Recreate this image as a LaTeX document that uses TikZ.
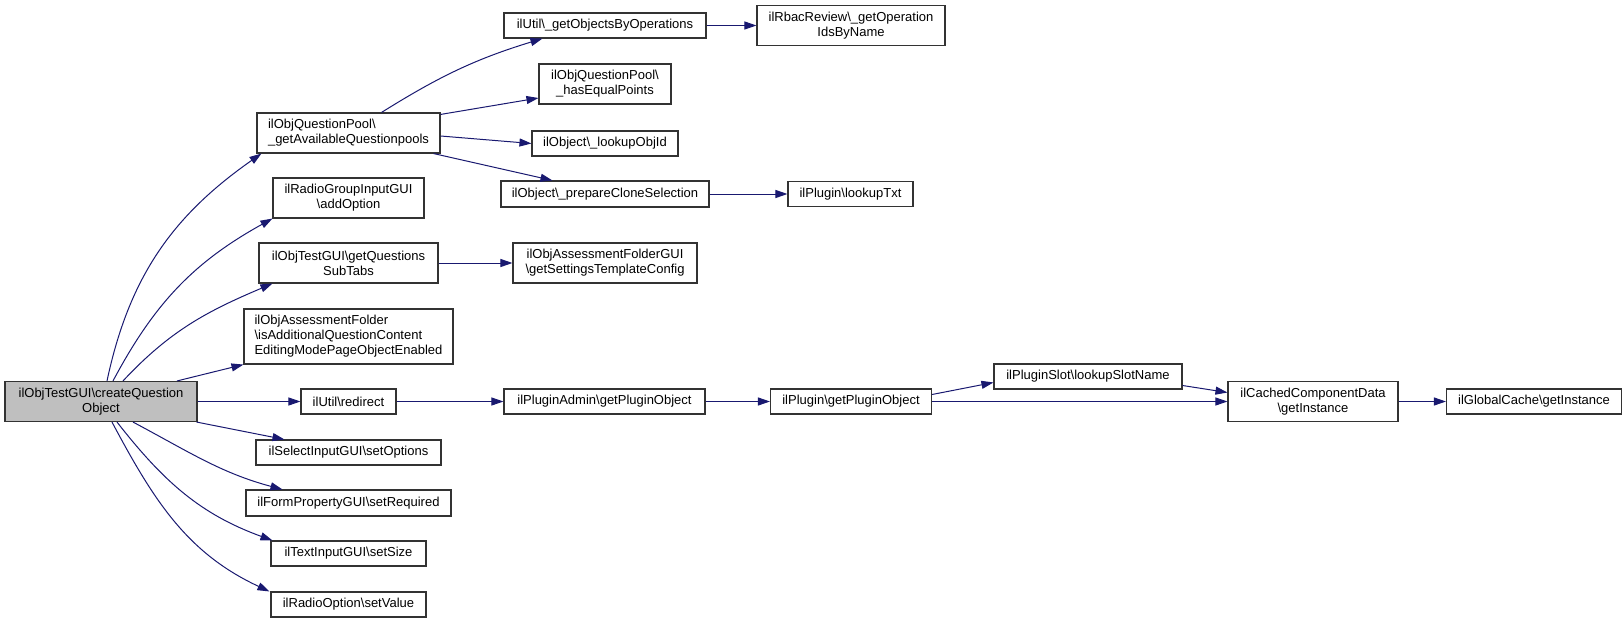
\documentclass[tikz,border=0pt]{standalone}
\usepackage{fontspec}
\setmainfont{Liberation Sans}
\usetikzlibrary{arrows.meta}
\definecolor{edgeblue}{RGB}{25,25,112}
\definecolor{curgray}{RGB}{191,191,191}

\begin{document}
\begin{tikzpicture}[x=1pt,y=-1pt,
  fn/.style={draw=black!80,line width=1.1pt,align=center,inner sep=0pt,
    font=\fontsize{13}{15}\selectfont},
  cur/.style={fn,fill=curgray},
  call/.style={edgeblue,line width=1pt,-{Triangle[length=12pt,width=8pt]}}]

  \useasboundingbox (0,0) rectangle (1624,623);

  % first column
  \node[cur,minimum width=192pt,minimum height=40pt] (main) at (101,401.5)
    {ilObjTestGUI\textbackslash createQuestion\\Object};

  % second column
  \node[fn,align=left,minimum width=183pt,minimum height=40pt] (pool) at (348.5,133)
    {ilObjQuestionPool\textbackslash\\\_getAvailableQuestionpools};
  \node[fn,minimum width=151pt,minimum height=40pt] (radio) at (348.5,198)
    {ilRadioGroupInputGUI\\\textbackslash addOption};
  \node[fn,minimum width=179pt,minimum height=40pt] (subtabs) at (348.5,263)
    {ilObjTestGUI\textbackslash getQuestions\\SubTabs};
  \node[fn,align=left,minimum width=209pt,minimum height=55pt] (assess) at (348.5,336.5)
    {ilObjAssessmentFolder\\\textbackslash isAdditionalQuestionContent\\EditingModePageObjectEnabled};
  \node[fn,minimum width=95pt,minimum height=25pt] (redirect) at (348.5,401.5)
    {ilUtil\textbackslash redirect};
  \node[fn,minimum width=185pt,minimum height=25pt] (setopt) at (348.5,452.5)
    {ilSelectInputGUI\textbackslash setOptions};
  \node[fn,minimum width=205pt,minimum height=26pt] (setreq) at (348.5,503)
    {ilFormPropertyGUI\textbackslash setRequired};
  \node[fn,minimum width=155pt,minimum height=25pt] (setsize) at (348.5,553.5)
    {ilTextInputGUI\textbackslash setSize};
  \node[fn,minimum width=155pt,minimum height=25pt] (setval) at (348.5,604.5)
    {ilRadioOption\textbackslash setValue};

  % third column
  \node[fn,minimum width=202pt,minimum height=25pt] (getobj) at (605,25.5)
    {ilUtil\textbackslash\_getObjectsByOperations};
  \node[fn,minimum width=132pt,minimum height=40pt] (haseq) at (605,84)
    {ilObjQuestionPool\textbackslash\\\_hasEqualPoints};
  \node[fn,minimum width=146pt,minimum height=25pt] (lookupid) at (605,143.5)
    {ilObject\textbackslash\_lookupObjId};
  \node[fn,minimum width=208pt,minimum height=26pt] (clone) at (605,194)
    {ilObject\textbackslash\_prepareCloneSelection};
  \node[fn,minimum width=184pt,minimum height=40pt] (settpl) at (605,263)
    {ilObjAssessmentFolderGUI\\\textbackslash getSettingsTemplateConfig};
  \node[fn,minimum width=201pt,minimum height=25pt] (padmin) at (604.5,401.5)
    {ilPluginAdmin\textbackslash getPluginObject};

  % fourth column and beyond
  \node[fn,minimum width=188pt,minimum height=40pt] (rbac) at (851,25.5)
    {ilRbacReview\textbackslash\_getOperation\\IdsByName};
  \node[fn,minimum width=125pt,minimum height=25pt] (txt) at (850.5,194)
    {ilPlugin\textbackslash lookupTxt};
  \node[fn,minimum width=161pt,minimum height=25pt] (plugin) at (851,401.5)
    {ilPlugin\textbackslash getPluginObject};
  \node[fn,minimum width=188pt,minimum height=25pt] (slot) at (1088,376.5)
    {ilPluginSlot\textbackslash lookupSlotName};
  \node[fn,minimum width=170pt,minimum height=40pt] (cached) at (1313,401.5)
    {ilCachedComponentData\\\textbackslash getInstance};
  \node[fn,minimum width=175pt,minimum height=25pt] (gcache) at (1534,401.5)
    {ilGlobalCache\textbackslash getInstance};

  % calls from the current function
  \draw[call] ([xshift=6pt]main.north) to[out=78,in=215] ([xshift=5pt]pool.south west);
  \draw[call] ([xshift=12pt]main.north) to[out=62,in=209] (radio.south west);
  \draw[call] ([xshift=22pt]main.north) to[out=47,in=203] ([xshift=14pt]subtabs.south west);
  \draw[call] ([xshift=76pt]main.north) -- (assess.south west);
  \draw[call] (main.east) -- (redirect.west);
  \draw[call] ([xshift=-1pt]main.south east) -- ([xshift=29pt]setopt.north west);
  \draw[call] ([xshift=32pt]main.south) to[out=-28,in=165] ([xshift=37pt]setreq.north west);
  \draw[call] ([xshift=16pt]main.south) to[out=-52,in=160] ([xshift=2pt]setsize.north west);
  \draw[call] ([xshift=11pt]main.south) to[out=-62,in=155] ([xshift=-1pt]setval.north west);

  % further calls
  \draw[call] ([xshift=33pt]pool.north) to[out=32,in=197] ([xshift=39pt]getobj.south west);
  \draw[call] ([yshift=-2pt]pool.north east) -- ([yshift=-14pt]haseq.west);
  \draw[call] ([yshift=-3pt]pool.east) -- (lookupid.west);
  \draw[call] ([xshift=-7pt]pool.south east) -- ([xshift=52pt]clone.north west);
  \draw[call] (getobj.east) -- (rbac.west);
  \draw[call] (clone.east) -- (txt.west);
  \draw[call] (subtabs.east) -- (settpl.west);
  \draw[call] (redirect.east) -- (padmin.west);
  \draw[call] (padmin.east) -- (plugin.west);
  \draw[call] ([yshift=7pt]plugin.east) -- ([yshift=-6pt]slot.west);
  \draw[call] (plugin.east) -- (cached.west);
  \draw[call] ([yshift=-9pt]slot.east) -- ([yshift=9pt]cached.west);
  \draw[call] (cached.east) -- (gcache.west);

\end{tikzpicture}
\end{document}
